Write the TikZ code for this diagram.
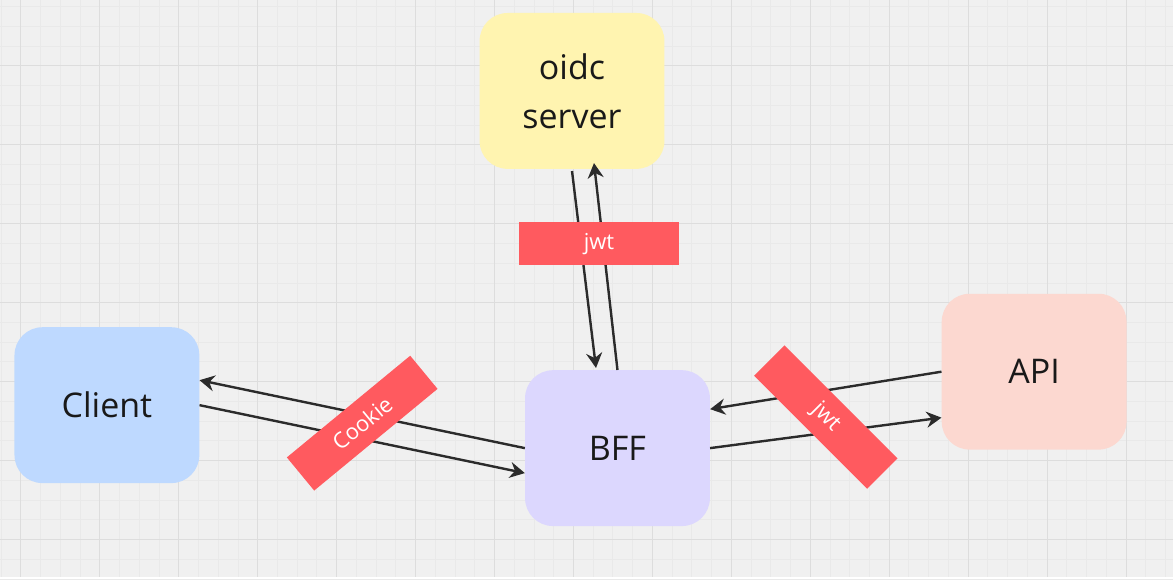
\documentclass[tikz,border=0pt]{standalone}
\usepackage{fontspec}
\setmainfont{Open Sans}
\usetikzlibrary{arrows.meta}
\definecolor{bgcol}{HTML}{F0F0F0}
\definecolor{gridminor}{HTML}{E9E9E9}
\definecolor{gridmajor}{HTML}{DDDDDD}
\definecolor{oidccol}{HTML}{FFF4B0}
\definecolor{clientcol}{HTML}{BED9FF}
\definecolor{bffcol}{HTML}{DCD7FE}
\definecolor{apicol}{HTML}{FCD8D0}
\definecolor{tagcol}{HTML}{FF5A5F}
\definecolor{linecol}{HTML}{2B2B2B}
\begin{document}
\begin{tikzpicture}[x=1pt,y=-1pt,
        flow/.style={draw=linecol,line width=2.4pt,-{Stealth[length=15pt,width=16pt,inset=5pt]}}]
        \tikzstyle{box}=[rounded corners=28pt,minimum width=185pt,minimum height=156pt,align=center,text=black!90,font=\fontsize{34}{49}\selectfont]
        \tikzstyle{tag}=[fill=tagcol,text=white,minimum width=160pt,minimum height=43pt,inner sep=0pt,font=\fontsize{22}{26}\selectfont]
       % background grid
       \fill[bgcol] (0,0) rectangle (1173,577);
       \foreach \i in {-1,...,58} \draw[gridminor,line width=1pt] ({20.5+19.75*\i},0) -- ({20.5+19.75*\i},577);
       \foreach \i in {-3,...,26} \draw[gridminor,line width=1pt] (0,{65.5+19.75*\i}) -- (1173,{65.5+19.75*\i});
       \foreach \i in {0,...,14} \draw[gridmajor,line width=1pt] ({20.5+79*\i},0) -- ({20.5+79*\i},577);
       \foreach \i in {0,...,6} \draw[gridmajor,line width=1pt] (0,{65.5+79*\i}) -- (1173,{65.5+79*\i});
       \begin{scope}
         \node [box,fill=oidccol] (oidc) at (572,90.5) {oidc\\server};
         \node [box,fill=clientcol] (client) at (106.5,405) {Client};
         \node [box,fill=bffcol] (bff) at (617.5,448) {BFF};
         \node [box,fill=apicol] (api) at (1034.5,371.5) {API};
         % connectors
         \path[flow] ([yshift=-2pt]oidc.south) -- ([xshift=-21.5pt,yshift=2pt]bff.north);
         \path[flow] (bff.north) -- ([xshift=22pt,yshift=6pt]oidc.south);
         \path[flow] (bff.west) -- ([yshift=25pt]client.east);
         \path[flow] (client.east) -- ([yshift=-25pt]bff.west);
         \path[flow] (api.west) -- ([yshift=39pt]bff.east);
         \path[flow] (bff.east) -- ([yshift=-46pt]api.west);
         % tags
         \node [tag] (jwtoidc) at (599,243.5) {jwt};
         \node [tag,rotate=39.5] (cookie) at (362,423) {Cookie};
         \node [tag,rotate=-45] (jwtapi) at (826,417) {jwt};
        \end{scope}
      \end{tikzpicture}
\end{document}
